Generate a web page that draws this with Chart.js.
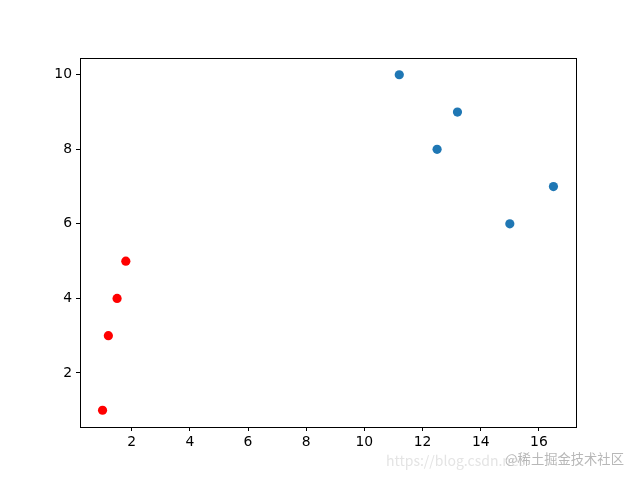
<!DOCTYPE html>
<html>
<head>
<meta charset="utf-8">
<script src="https://cdn.jsdelivr.net/npm/chart.js@4/dist/chart.umd.min.js"></script>
<style>
  html, body { margin: 0; padding: 0; background: #fff; }
  #wrap { position: relative; width: 640px; height: 480px; }
  .mark { position: absolute; font-family: "Noto Sans CJK SC", "DejaVu Sans", sans-serif; white-space: nowrap; }
</style>
</head>
<body>
<div id="wrap">
  <canvas id="mycanvas" width="640" height="480"></canvas>
  <div class="mark" style="left:386px; top:450px; font-size:14px; color:#e4e4e4;">https://blog.csdn.net</div>
  <div class="mark" style="left:505px; top:449px; font-size:13.3px; color:#b8b8b8; text-shadow:0 0 2px #fff;">@稀土掘金技术社区</div>
</div>
<script>
// red group
var redX = [1, 1.2, 1.5, 1.8];
var redY = [1, 3, 4, 5];
// blue group
var blueX = [11.2, 12.5, 13.2, 15, 16.5];
var blueY = [10, 8, 9, 6, 7];

var xTicks = [2, 4, 6, 8, 10, 12, 14, 16];
var yTicks = [2, 4, 6, 8, 10];

function toPoints(xs, ys){
    var pts = [];
    for (var i in xs){
        pts.push({x: xs[i], y: ys[i]});
    }
    return pts;
}

var frame = {
    id: "frame",
    afterDraw: function(chart){
        var a = chart.chartArea;
        var c = chart.ctx;
        c.save();
        c.strokeStyle = "#000";
        c.lineWidth = 1;
        c.strokeRect(Math.round(a.left) + 0.5, Math.round(a.top) + 0.5,
                     Math.round(a.right - a.left), Math.round(a.bottom - a.top));
        c.restore();
    }
};

var axisFont = {family: "DejaVu Sans", size: 13.9};

var ctx = document.getElementById("mycanvas");
var chart = new Chart(ctx, {
    type: "scatter",
    data: {
        datasets: [
            {
                data: toPoints(blueX, blueY),
                backgroundColor: "#1f77b4",
                borderWidth: 0,
                pointRadius: 4.6
            },
            {
                data: toPoints(redX, redY),
                backgroundColor: "#ff0000",
                borderWidth: 0,
                pointRadius: 4.6
            }
        ]
    },
    plugins: [frame],
    options: {
        responsive: false,
        animation: false,
        layout: {padding: {left: 0, right: 64, top: 58, bottom: 0}},
        plugins: {legend: {display: false}, tooltip: {enabled: false}},
        scales: {
            x: {
                type: "linear",
                min: 0.225,
                max: 17.275,
                afterBuildTicks: function(s){ s.ticks = xTicks.map(function(v){ return {value: v}; }); },
                afterFit: function(s){ s.height = 53; },
                grid: {display: true, drawOnChartArea: false, drawTicks: true, tickLength: 4, color: "#000"},
                border: {display: true, color: "#000"},
                ticks: {color: "#000", font: axisFont, padding: 3, maxRotation: 0}
            },
            y: {
                type: "linear",
                min: 0.55,
                max: 10.45,
                afterBuildTicks: function(s){ s.ticks = yTicks.map(function(v){ return {value: v}; }); },
                afterFit: function(s){ s.width = 80; },
                grid: {display: true, drawOnChartArea: false, drawTicks: true, tickLength: 4, color: "#000"},
                border: {display: true, color: "#000"},
                ticks: {color: "#000", font: axisFont, padding: 4}
            }
        }
    }
});
</script>
</body>
</html>
